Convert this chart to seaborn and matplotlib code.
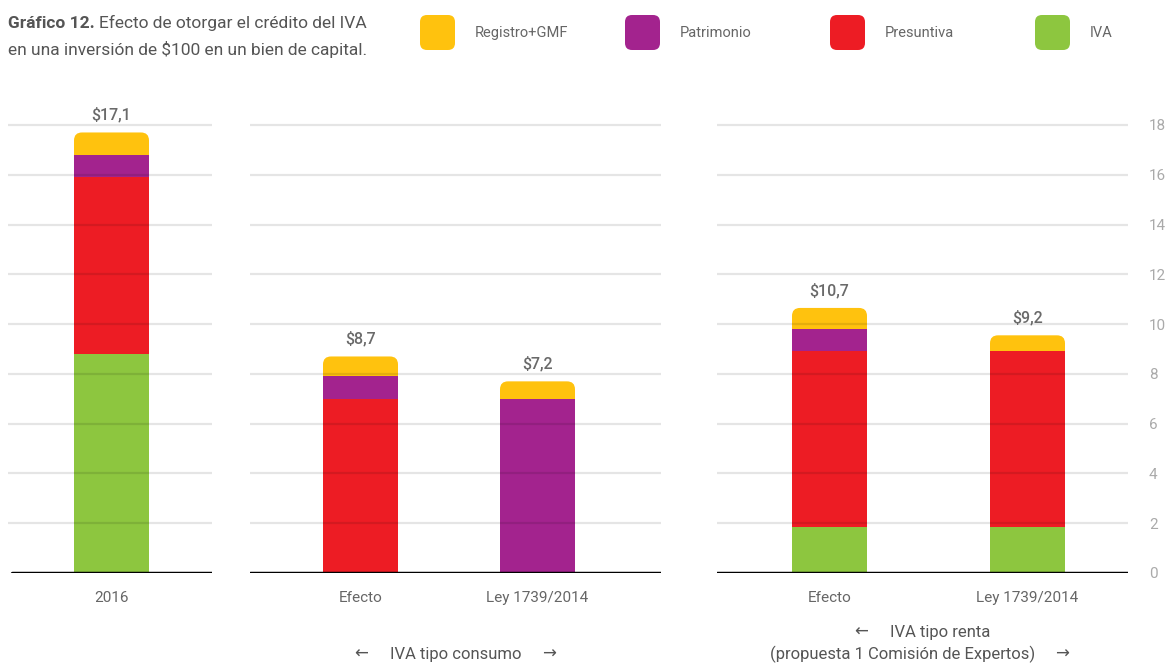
import numpy as np
import pandas as pd
import seaborn as sns
import matplotlib.pyplot as plt
from matplotlib.patches import FancyBboxPatch

# données
series = ["Registro+GMF", "Patrimonio", "Presuntiva", "IVA"]
couleurs = ["#FFC20E", "#A3238E", "#ED1C24", "#8DC63F"]

cat_2016 = ["2016"]
cat_iva = ["Efecto", "Ley 1739/2014"]

iva_2016 = [8.8]
pres_2016 = [7.1]
patr_2016 = [0.9]
reg_2016 = [0.9]

iva_cons = [0.0, 0.0]
pres_cons = [7.0, 0.0]
patr_cons = [0.9, 7.0]
reg_cons = [0.8, 0.7]

iva_renta = [1.85, 1.85]
pres_renta = [7.05, 7.05]
patr_renta = [0.9, 0.0]
reg_renta = [0.85, 0.65]

etiq_2016 = ["$17,1"]
etiq_cons = ["$8,7", "$7,2"]
etiq_renta = ["$10,7", "$9,2"]

yticks = [0, 2, 4, 6, 8, 10, 12, 14, 16, 18]

GRIS = "#666666"

sns.set_style("white")
plt.rcParams['font.family'] = ['Roboto', 'DejaVu Sans']

W, H = 1168, 665
fig = plt.figure(figsize=(W / 100, H / 100), dpi=100)

# calque en coordonnées pixels pour titre, légende, annotations
ov = fig.add_axes([0, 0, 1, 1])
ov.set_xlim(0, W)
ov.set_ylim(H, 0)
ov.axis("off")

y0_px = 573
py_unit = (573 - 125) / 18.0
ytop = 18.5


def creer_axe(x_gauche, x_droite):
    bas = 1 - y0_px / H
    haut = ytop * py_unit / H
    return fig.add_axes([x_gauche / W, bas, (x_droite - x_gauche) / W, haut])


def dessiner_panneau(ax, cats, iva, pres, patr, reg, etiquettes, largeur, xlim, base_xmin=0.0):
    tab = pd.DataFrame({"cat": cats, "IVA": iva, "Presuntiva": pres,
                        "Patrimonio": patr, "Registro+GMF": reg})
    tab["c_iva"] = tab["IVA"]
    tab["c_pres"] = tab["c_iva"] + tab["Presuntiva"]
    tab["c_patr"] = tab["c_pres"] + tab["Patrimonio"]
    tab["c_reg"] = tab["c_patr"] + tab["Registro+GMF"]

    sns.barplot(data=tab, x="cat", y="c_reg", color=couleurs[0], saturation=1,
                width=largeur, errorbar=None, ax=ax, zorder=1, linewidth=0)
    jaunes = list(ax.patches)
    for col, c in zip(["c_patr", "c_pres", "c_iva"], couleurs[1:]):
        sns.barplot(data=tab, x="cat", y=col, color=c, saturation=1,
                    width=largeur, errorbar=None, ax=ax, zorder=2, linewidth=0)

    ax.set_xlim(*xlim)
    ax.set_ylim(0, ytop)

    # coins arrondis en haut du segment jaune
    p0 = ax.transData.transform((0, 0))
    px_x = ax.transData.transform((1, 0))[0] - p0[0]
    px_y = ax.transData.transform((0, 1))[1] - p0[1]
    r = 8 / px_x
    for p in jaunes:
        x, y, w, h = p.get_x(), p.get_y(), p.get_width(), p.get_height()
        p.remove()
        ax.add_patch(FancyBboxPatch((x, y), w, h,
                                    boxstyle=f"round,pad=0,rounding_size={r}",
                                    mutation_aspect=px_x / px_y,
                                    fc=couleurs[0], ec="none", zorder=1))

    for v in yticks[1:]:
        ax.axhline(v, color="black", alpha=0.1, lw=1.6, zorder=3)
    ax.axhline(0, xmin=base_xmin, color="black", lw=2.5, zorder=4)

    for i, (tot, lab) in enumerate(zip(tab["c_reg"], etiquettes)):
        ax.annotate(lab, (i, tot), xytext=(0, 7), textcoords="offset points",
                    ha="center", va="bottom", fontsize=11.5, color="#6a6a6a",
                    fontweight="medium")

    ax.set_xlabel("")
    ax.set_ylabel("")
    ax.set_yticks(yticks)
    sns.despine(ax=ax, left=True, bottom=True)
    ax.tick_params(axis="x", length=0, pad=13, labelsize=11, labelcolor=GRIS)
    ax.tick_params(axis="y", length=0, left=False, labelleft=False)
    ax.set_facecolor("none")


ax1 = creer_axe(8, 212)
ax2 = creer_axe(250, 661)
ax3 = creer_axe(717, 1128)

dessiner_panneau(ax1, cat_2016, iva_2016, pres_2016, patr_2016, reg_2016, etiq_2016,
                 75 / 198, ((8 - 111.5) / 198, (212 - 111.5) / 198), base_xmin=0.02)
dessiner_panneau(ax2, cat_iva, iva_cons, pres_cons, patr_cons, reg_cons, etiq_cons,
                 75 / 177, ((250 - 360.5) / 177, (661 - 360.5) / 177))
dessiner_panneau(ax3, cat_iva, iva_renta, pres_renta, patr_renta, reg_renta, etiq_renta,
                 75 / 198, ((717 - 829.5) / 198, (1128 - 829.5) / 198))

ax3.yaxis.tick_right()
ax3.tick_params(axis="y", right=False, labelright=True, length=0, pad=15,
                labelsize=11, labelcolor="#aaaaaa")

# titre
t1 = ov.text(8, 23, "Gráfico 12.", fontsize=12.5, fontweight="bold", color="#555555",
             ha="left", va="center")
rend = fig.canvas.get_renderer()
bb = t1.get_window_extent(rend)
x_suite = ov.transData.inverted().transform((bb.x1, bb.y0))[0]
ov.text(x_suite + 4, 23, "Efecto de otorgar el crédito del IVA", fontsize=12.5,
        color="#555555", ha="left", va="center")
ov.text(8, 49, "en una inversión de $100 en un bien de capital.", fontsize=12.5,
        color="#555555", ha="left", va="center")

# légende
for k, (nom, c) in enumerate(zip(series, couleurs)):
    x = 420 + k * 205
    ov.add_patch(FancyBboxPatch((x, 15), 35, 35, boxstyle="round,pad=0,rounding_size=7",
                                fc=c, ec="none"))
    ov.text(x + 55, 33, nom, fontsize=10.5, color=GRIS, ha="left", va="center")

# groupes
ov.text(361, 654, "←", fontsize=12, color="#555555", ha="center", va="center")
ov.text(455.5, 654, "IVA tipo consumo", fontsize=12, color="#555555", ha="center", va="center")
ov.text(549, 654, "→", fontsize=12, color="#555555", ha="center", va="center")

ov.text(861, 632, "←", fontsize=12, color="#555555", ha="center", va="center")
ov.text(940, 632, "IVA tipo renta", fontsize=12, color="#555555", ha="center", va="center")
ov.text(902.5, 654, "(propuesta 1 Comisión de Expertos)", fontsize=12, color="#555555",
        ha="center", va="center")
ov.text(1062, 654, "→", fontsize=12, color="#555555", ha="center", va="center")

fig.savefig("out.png", dpi=100)
